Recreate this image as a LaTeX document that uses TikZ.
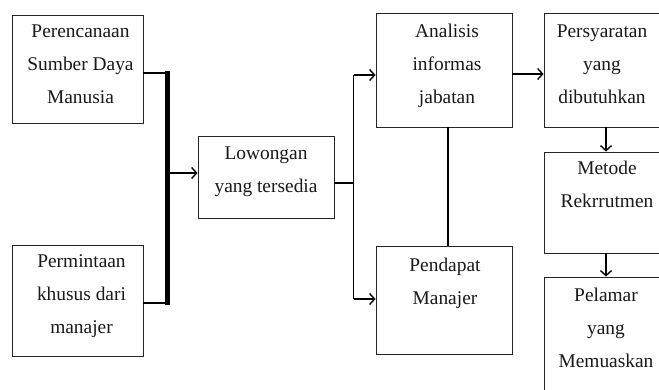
\documentclass[tikz,border=0pt]{standalone}
\usepackage{fontspec}
\setmainfont{Liberation Serif}
\usetikzlibrary{arrows.meta}
\newcommand{\toprule}{\rule{0pt}{20pt}}
\begin{document}
\begin{tikzpicture}[x=1pt,y=-1pt,
  box/.style={draw=black!85,line width=0.9pt,inner sep=0pt},
  txt/.style={align=center,inner sep=0pt,anchor=north,font=\fontsize{19.4}{33}\selectfont,text=black!90},
  conn/.style={line width=1.4pt,black},
  arr/.style={conn,-{Straight Barb[length=5pt,width=11pt,line width=1.4pt]}},
  bar/.style={line width=4.5pt,black}]
\useasboundingbox (0,0) rectangle (659,389);
\clip (0,0) rectangle (659,389);
\fill[white] (0,0) rectangle (659,389);
% boxes
\node[box,minimum width=131pt,minimum height=108pt] (p1) at (77.5,69) {};
\node[box,minimum width=131pt,minimum height=111pt] (p2) at (77.5,300.5) {};
\node[box,minimum width=136pt,minimum height=82pt] (low) at (266,177) {};
\node[box,minimum width=136pt,minimum height=114pt] (ana) at (444,70) {};
\node[box,minimum width=136pt,minimum height=108pt] (pen) at (444,300) {};
\node[box,minimum width=122pt,minimum height=114pt] (per) at (605,70) {};
\node[box,minimum width=122pt,minimum height=101pt] (met) at (605,202.5) {};
\node[box,minimum width=122pt,minimum height=130pt] (pel) at (605,342) {};
% texts (first baseline = box top + offset; rule height 20pt)
\node[txt] (t1) at ([xshift=3pt,yshift=-2.5pt]p1.north) {\toprule Perencanaan\\Sumber Daya\\Manusia};
\node[txt] (t2) at ([xshift=4pt,yshift=-2.5pt]p2.north) {\toprule Permintaan\\khusus dari\\manajer};
\node[txt] (t3) at ([yshift=-3.5pt]low.north) {\toprule Lowongan\\yang tersedia};
\node[txt] (t4) at ([xshift=3pt,yshift=-5pt]ana.north) {\toprule Analisis\\informas\\jabatan};
\node[txt] (t5) at ([xshift=1pt,yshift=-5.5pt]pen.north) {\toprule Pendapat\\Manajer};
\node[txt] (t6) at ([xshift=-3pt,yshift=-5pt]per.north) {\toprule Persyaratan\\yang\\dibutuhkan};
\node[txt] (t7) at ([xshift=2pt,yshift=-3pt]met.north) {\toprule Metode\\Rekrrutmen};
\node[txt] (t8) at ([xshift=1pt,yshift=-4.5pt]pel.north) {\toprule Pelamar\\yang\\Memuaskan};
% left bar
\coordinate (bt) at (167.5,73);
\coordinate (bb) at (167.5,303);
\coordinate (ba) at (167.5,173);
\draw[conn] (p1.east |- bt) -- (bt);
\draw[conn] (p2.east |- bb) -- (bb);
\draw[bar] ([yshift=2pt]bt) -- ([yshift=-2pt]bb);
\draw[arr] ([xshift=2pt]ba) -- (low.west |- ba);
% right splitter
\coordinate (st) at (353.5,75);
\coordinate (sm) at (353.5,183);
\coordinate (sb) at (353.5,299);
\draw[conn] (low.east |- sm) -- (sm);
\draw[conn] (st) -- (sb);
\draw[arr] (st) -- (ana.west |- st);
\draw[arr] (sb) -- (pen.west |- sb);
% other links
\coordinate (ar) at (512,74);
\draw[arr] (ana.east |- ar) -- (per.west |- ar);
\coordinate (av) at (448,0);
\draw[conn] (ana.south -| av) -- (pen.north -| av);
\coordinate (mv) at (606,0);
\draw[arr] (per.south -| mv) -- (met.north -| mv);
\draw[arr] (met.south -| mv) -- (pel.north -| mv);
\end{tikzpicture}
\end{document}
